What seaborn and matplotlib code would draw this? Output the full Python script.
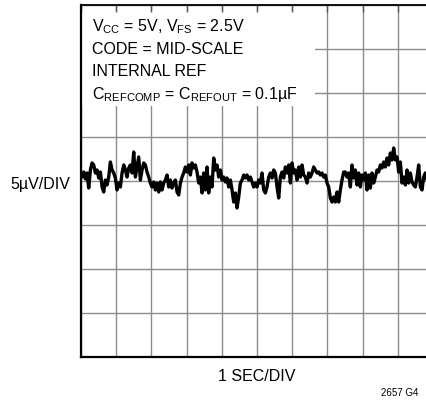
import numpy as np
import matplotlib
matplotlib.use("Agg")
import matplotlib.pyplot as plt
from matplotlib.patches import Rectangle
import seaborn as sns

# noise trace, in microvolts (5uV per division)
noise_uv = [
    0.45, 1.02, 0.23, 0.91, -0.80, 1.25, 2.05, 1.82, 0.91, 1.25, 0.34, 1.02, -0.68,
    -1.25, 0.11, -0.45, 0.45, 2.16, 1.25, 0.91, 0.34, -1.02, -0.23, -0.68, 0.91, 1.82,
    1.25, 0.45, 1.48, 1.82, 0.91, 3.30, 0.45, 1.59, 2.73, 0.11, 1.25, 2.05, 1.82, 1.02,
    0.45, -0.23, -0.68, -0.11, -1.02, -0.23, -1.25, -0.11, -1.02, -0.23, 0.11, 0.68,
    -0.68, 0.11, -0.80, -0.23, 0.11, -1.25, -1.59, -0.23, 0.45, 0.91, 1.59, 1.02, 1.82,
    0.68, 2.05, 1.48, 1.82, 1.02, -0.23, 0.45, -1.36, 0.91, -1.02, 1.59, -1.36, 0.45,
    -0.68, 2.61, 1.25, 1.82, 0.45, 1.25, 0.11, 0.45, -0.11, 0.34, -0.68, 0.11, -1.02,
    -2.39, -1.36, -3.07, -1.82, -0.23, 0.11, 0.68, 0.34, 0.68, 0.11, 0.45, -0.11, -0.68,
    -0.23,
    -0.68, 0.11, -0.23, 0.91, -1.02, -1.36, -0.68, 0.45, 0.91, 0.34, 1.25, 0.91, -0.68,
    -1.93, 0.45, 1.02, 0.34, 1.59, 0.91, 1.82, -0.23, 2.05, 0.91, 1.25, 0.11, 1.59, 0.45,
    1.82, 0.68, 0.45, -0.23, 0.91, 0.45, 0.91, 1.59, 1.25, 0.91, 1.02, 0.68, 0.91, 0.45,
    0.68, -0.23, -0.68, -1.93, -2.39, -1.82, -2.39, -1.25, -2.39, -1.02, 0.11, 1.02,
    1.02, 0.45, 0.91, -0.68, 1.82, 0.34, 1.25, -0.45, 0.91, -0.68, 0.68, 0.11, 0.91,
    -1.02, 0.68, -0.80, 0.91, -0.23, 0.45, 1.25, 1.02, 1.82, 1.48, 2.16, 1.59, 2.61,
    1.82, 3.18, 2.39, 3.75, 2.39, 2.73, 1.02, 2.16, -0.23, 0.45, -0.45, 1.25, -0.23,
    0.91, -0.11, -0.45, -0.68, 0.45, 1.82, -0.68, -1.02, 0.45, 0.91, 0.11,
]
t_start, t_end = 0.03, 9.83   # seconds covered by the samples
x_divs = np.arange(0, 11)          # 1 SEC/DIV
y_divs = np.arange(-20, 21, 5)     # 5uV/DIV

t = np.linspace(t_start, t_end, len(noise_uv))

sns.set_style("white")
plt.rcParams['font.family'] = ['Liberation Sans', 'DejaVu Sans']
plt.rcParams['mathtext.fontset'] = 'custom'
plt.rcParams['mathtext.rm'] = 'Liberation Sans'
plt.rcParams['text.color'] = 'black'

fig = plt.figure(figsize=(4.27, 4.19), dpi=100)
pos = [81 / 427, 62 / 419, 352 / 427, 352 / 419]
ax = fig.add_axes(pos)

sns.lineplot(x=t, y=noise_uv, ax=ax, color='black', linewidth=2.4, zorder=2)
ax.set_xlim(0, 10)
ax.set_ylim(-20, 20)
ax.set_xticks(x_divs)
ax.set_yticks(y_divs)
ax.set_axisbelow(True)
ax.grid(True, color='#8c8c8c', linewidth=1.0)
ax.tick_params(length=0, labelbottom=False, labelleft=False)
for s in ax.spines.values():
    s.set_visible(False)

# white box behind the conditions text
ax.add_patch(Rectangle((0, 0.713), 0.665, 0.27, transform=ax.transAxes,
                       facecolor='white', edgecolor='none', zorder=3))

lines = [r'V$_\mathregular{CC}$ = 5V, V$_\mathregular{FS}$ = 2.5V',
         'CODE = MID-SCALE',
         'INTERNAL REF',
         r'C$_\mathregular{REFCOMP}$ = C$_\mathregular{REFOUT}$ = 0.1µF']
for i, s in enumerate(lines):
    ax.text(0.031, 0.926 - i * 0.0645, s, transform=ax.transAxes, fontsize=11.5,
            ha='left', va='baseline', zorder=4)

# overlay axes for the frame and inward ticks
ax2 = fig.add_axes(pos)
ax2.patch.set_visible(False)
ax2.set_xlim(0, 10)
ax2.set_ylim(-20, 20)
ax2.set_xticks(x_divs)
ax2.set_yticks(y_divs)
ax2.xaxis.set_ticks_position('top')
ax2.tick_params(axis='x', direction='in', length=5, width=1.0, color='#555555',
                labeltop=False, labelbottom=False)
ax2.tick_params(axis='y', direction='in', length=2.5, width=1.0, color='#555555',
                labelleft=False)
ax2.spines['right'].set_visible(False)
ax2.spines['left'].set_linewidth(1.6)
ax2.spines['bottom'].set_linewidth(1.6)
ax2.spines['top'].set_linewidth(1.3)
for s in ['left', 'bottom', 'top']:
    ax2.spines[s].set_color('black')

fig.text(70 / 427, 1 - 184 / 419, '5µV/DIV', ha='right', va='center', fontsize=11.5)
fig.text(257 / 427, 1 - 376 / 419, '1 SEC/DIV', ha='center', va='center', fontsize=11.5)
fig.text(418 / 427, 1 - 393 / 419, '2657 G4', ha='right', va='center', fontsize=7)

fig.savefig('out.png', dpi=100)
